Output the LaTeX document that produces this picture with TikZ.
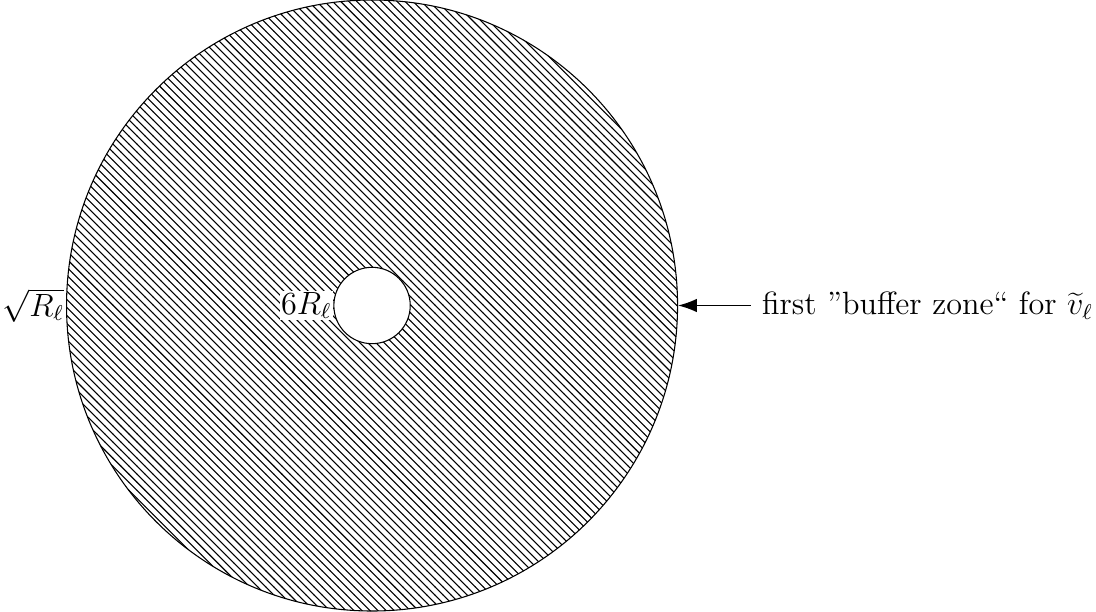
\documentclass[tikz,border=0pt,12pt]{standalone}
\usetikzlibrary{patterns,arrows.meta}
\begin{document}
\begin{tikzpicture}
\useasboundingbox (-138.6pt,-4cm) rectangle (269.7pt,4cm);
\tikzset{ring/.style={circle, draw, inner sep=0pt}}
\node[ring, minimum size=8cm, pattern=north west lines] (outer) at (0,0) {};
\node[ring, minimum size=1cm, fill=white] (inner) at (0,0) {};
\node[anchor=east, inner sep=0.5pt] (sq) at (outer.west) {$\sqrt{R_\ell}$};
\node[anchor=east, fill=white, inner sep=0.5pt] (six) at (inner.west) {$6R_\ell$};
\node[anchor=west] (lbl) at (4.96,0) {first ”buffer zone“ for $\widetilde{v}_\ell$};
\draw[-{Latex[length=7pt,width=5pt]}] (lbl.west) -- (outer.east);
\end{tikzpicture}
\end{document}
